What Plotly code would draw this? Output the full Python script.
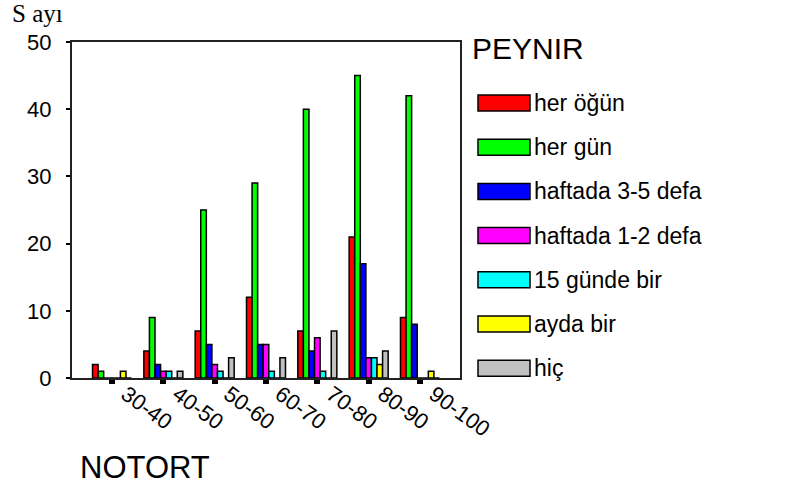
import plotly.graph_objects as go

# age groups (x categories)
categories = ['30-40', '40-50', '50-60', '60-70', '70-80', '80-90', '90-100']

# counts per consumption frequency
her_ogun = [2, 4, 7, 12, 7, 21, 9]
her_gun = [1, 9, 25, 29, 40, 45, 42]
haftada_3_5 = [0, 2, 5, 5, 4, 17, 8]
haftada_1_2 = [0, 1, 2, 5, 6, 3, 0]
gunde_15 = [0, 1, 1, 1, 1, 3, 0]
ayda_bir = [1, 0, 0, 0, 0, 2, 1]
hic = [0, 1, 3, 3, 7, 4, 0]

series_names = ['her öğün', 'her gün', 'haftada 3-5 defa', 'haftada 1-2 defa',
                '15 günde bir', 'ayda bir', 'hiç']
series_values = [her_ogun, her_gun, haftada_3_5, haftada_1_2, gunde_15, ayda_bir, hic]
colors = ['#ff0000', '#00ff00', '#0000ff', '#ff00ff', '#00ffff', '#ffff00', '#c0c0c0']

W, H = 798, 486
L, R, T, B = 72, 338, 42, 108
plot_w = W - L - R
plot_h = H - T - B


def px_x(x):
    return (x - L) / plot_w


def px_y(y):
    return (H - B - y) / plot_h


fig = go.Figure()

for name, vals, col in zip(series_names, series_values, colors):
    fig.add_trace(go.Bar(
        x=categories,
        y=vals,
        name=name,
        marker=dict(color=col, line=dict(color='black', width=1.5)),
        showlegend=False
    ))

font_main = 'Liberation Sans, Arial, sans-serif'

fig.update_layout(
    width=W,
    height=H,
    barmode='group',
    bargap=0.24,
    bargroupgap=0,
    plot_bgcolor='white',
    paper_bgcolor='white',
    margin=dict(l=L, r=R, t=T, b=B, pad=0, autoexpand=False),
    font=dict(family=font_main, color='black'),
    xaxis=dict(
        type='category',
        range=[-0.78, 6.78],
        showline=True,
        linecolor='#222222',
        linewidth=2,
        mirror=True,
        showgrid=False,
        ticks='outside',
        ticklen=4,
        tickwidth=6,
        tickcolor='black',
        tickangle=36,
        ticklabelshift=14,
        ticklabelstandoff=-11,
        tickfont=dict(size=22, family=font_main, color='black'),
    ),
    yaxis=dict(
        range=[0, 50],
        tickvals=[0, 10, 20, 30, 40, 50],
        showline=True,
        linecolor='#222222',
        linewidth=2,
        mirror=True,
        showgrid=False,
        zeroline=False,
        ticks='outside',
        ticklen=4,
        tickwidth=2,
        tickcolor='black',
        ticklabelstandoff=10,
        tickfont=dict(size=22, family=font_main, color='black'),
    ),
)

# y axis title in the top-left corner
fig.add_annotation(
    x=px_x(10), y=px_y(13), xref='paper', yref='paper',
    xanchor='left', yanchor='middle', showarrow=False,
    text='S ayı', font=dict(family='Liberation Serif, Times New Roman, serif', size=25, color='black')
)

# x axis title, bottom-left
fig.add_annotation(
    x=px_x(78), y=px_y(467), xref='paper', yref='paper',
    xanchor='left', yanchor='middle', showarrow=False,
    text='NOTORT', font=dict(size=31, color='black')
)

# legend drawn by hand so the swatches match the wide boxes
fig.add_annotation(
    x=px_x(470), y=px_y(48), xref='paper', yref='paper',
    xanchor='left', yanchor='middle', showarrow=False,
    text='PEYNIR', font=dict(size=30, color='black')
)

row0, row_step = 103, 44.2
for i, (name, col) in enumerate(zip(series_names, colors)):
    cy = row0 + i * row_step
    fig.add_shape(
        type='rect', xref='paper', yref='paper',
        x0=px_x(478), x1=px_x(530), y0=px_y(cy - 8), y1=px_y(cy + 8),
        fillcolor=col, line=dict(color='black', width=1.5)
    )
    fig.add_annotation(
        x=px_x(532), y=px_y(cy), xref='paper', yref='paper',
        xanchor='left', yanchor='middle', showarrow=False,
        text=name, font=dict(size=23, color='black')
    )

# drop the browser's default page margin so the chart sits at the window corner
fig.write_html("out.html", config={'displayModeBar': False},
               post_script="document.body.style.margin='0';")
